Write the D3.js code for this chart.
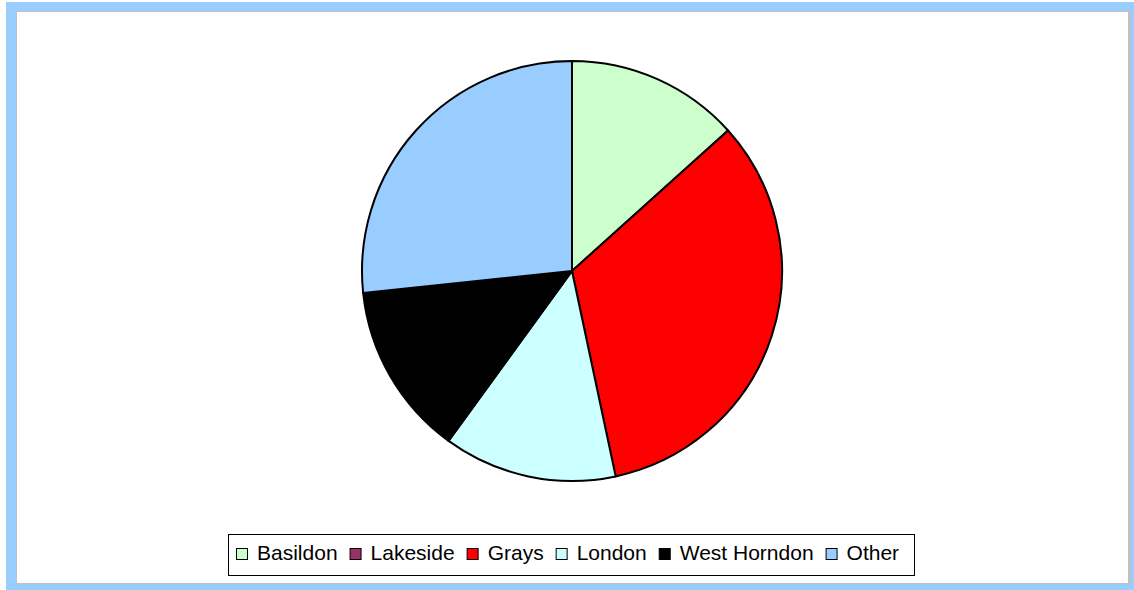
<!DOCTYPE html>
<html><head><meta charset="utf-8">
<script src="https://cdn.jsdelivr.net/npm/d3@7"></script>
<style>html,body{margin:0;padding:0;background:#fff;}svg{display:block;}</style>
</head><body>
<svg id="c" width="1134" height="590"></svg>
<script>
const categories = ["Basildon", "Lakeside", "Grays", "London", "West Horndon", "Other"];
const values = [2, 0, 5, 2, 2, 4];
const colors = ["#CCFFCC", "#993366", "#FF0000", "#CCFFFF", "#000000", "#99CCFF"];

const svg = d3.select("#c");
// frame
svg.append("rect").attr("x", 6).attr("y", 2).attr("width", 1128).attr("height", 588).attr("fill", "#99CCFF");
svg.append("rect").attr("x", 16).attr("y", 11).attr("width", 1115).attr("height", 573).attr("fill", "#c0c0c0");
svg.append("rect").attr("x", 17).attr("y", 12).attr("width", 1111).attr("height", 571).attr("fill", "#ffffff");

const data = categories.map((c, i) => ({ name: c, value: values[i], color: colors[i] }));
const pie = d3.pie().value(d => d.value).sort(null);
const arc = d3.arc().innerRadius(0).outerRadius(210);
const g = svg.append("g").attr("transform", "translate(572,271)");
g.selectAll("path").data(pie(data).filter(d => d.data.value > 0)).enter().append("path")
  .attr("d", arc).attr("fill", d => d.data.color)
  .attr("stroke", "#000").attr("stroke-width", 2).attr("stroke-linejoin", "round");

// legend
const lg = svg.append("g");
const box = lg.append("rect").attr("fill", "#fff").attr("stroke", "#000").attr("stroke-width", 1);
let x = 0;
const items = lg.append("g");
data.forEach(d => {
  items.append("rect").attr("x", x + 0.5).attr("y", 548.5).attr("width", 11).attr("height", 11)
    .attr("fill", d.color).attr("stroke", "#000").attr("stroke-width", 1);
  const t = items.append("text").attr("x", x + 21).attr("y", 559.5)
    .attr("font-family", "Liberation Sans, Arial, sans-serif").attr("font-size", 21)
    .attr("fill", "#000").text(d.name);
  x += 21 + t.node().getComputedTextLength() + 12;
});
const total = x - 12;
const left = 236;
items.attr("transform", `translate(${left},0)`);
box.attr("x", left - 8 + 0.5).attr("y", 534.5).attr("width", Math.round(total + 23)).attr("height", 41);
</script>
</body></html>
